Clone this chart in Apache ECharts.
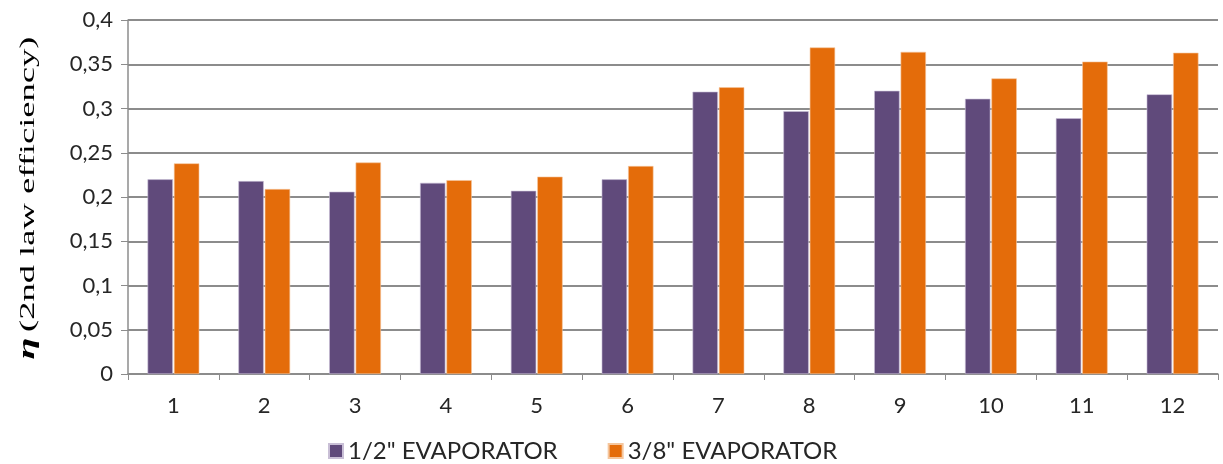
<!DOCTYPE html>
<html>
<head>
<meta charset="utf-8">
<script src="https://cdn.jsdelivr.net/npm/echarts@6/dist/echarts.min.js"></script>
<style>
  html, body { margin: 0; padding: 0; background: #ffffff; }
  #chart { width: 1223px; height: 464px; }
</style>
</head>
<body>
<div id="chart"></div>
<script>
// Test cases 1–12 and 2nd-law efficiency for each evaporator size
const categories = ['1', '2', '3', '4', '5', '6', '7', '8', '9', '10', '11', '12'];
const evap12 = [0.220, 0.218, 0.206, 0.216, 0.207, 0.220, 0.319, 0.297, 0.320, 0.311, 0.289, 0.316];
const evap38 = [0.238, 0.209, 0.239, 0.219, 0.223, 0.235, 0.324, 0.369, 0.364, 0.334, 0.353, 0.363];
const seriesNames = ['1/2" EVAPORATOR', '3/8" EVAPORATOR'];
const yTitleSymbol = 'η';
const yTitleText = '(2nd law efficiency)';

const labelFont = 'Lato, "Open Sans", sans-serif';
const chart = echarts.init(document.getElementById('chart'), null, { renderer: 'canvas' });

chart.setOption({
  animation: false,
  backgroundColor: '#ffffff',
  grid: { left: 128, right: 5, top: 20, bottom: 90, containLabel: false },
  legend: {
    top: 434,
    left: 323,
    itemWidth: 14,
    itemHeight: 14,
    itemGap: 50,
    icon: 'rect',
    textStyle: { fontFamily: labelFont, fontSize: 24, color: '#262626' },
    data: seriesNames
  },
  // vertical axis title, drawn as real text stretched along its length
  graphic: [{
    type: 'text',
    x: 28,
    y: 198,
    rotation: Math.PI / 2,
    scaleX: 1.66,
    scaleY: 1,
    style: {
      text: '{b|' + yTitleSymbol + '} {t|' + yTitleText + '}',
      align: 'center',
      verticalAlign: 'middle',
      fontWeight: 'normal',
      rich: {
        b: { fontFamily: '"Liberation Serif", serif', fontWeight: 'bold', fontStyle: 'italic', fontSize: 24, fill: '#000000' },
        t: { fontFamily: '"Liberation Serif", serif', fontWeight: 'normal', fontStyle: 'normal', fontSize: 22, fill: '#000000' }
      }
    }
  }],
  xAxis: {
    type: 'category',
    data: categories,
    axisLine: { lineStyle: { color: '#8c8c8c', width: 1.5 } },
    axisTick: { show: true, length: 6, alignWithLabel: false, lineStyle: { color: '#8c8c8c' } },
    axisLabel: { margin: 21, fontFamily: labelFont, fontSize: 22, color: '#262626' }
  },
  yAxis: {
    type: 'value',
    min: 0,
    max: 0.4,
    interval: 0.05,
    axisLine: { show: true, lineStyle: { color: '#8c8c8c', width: 1.5 } },
    axisTick: { show: true, length: 7, lineStyle: { color: '#8c8c8c' } },
    axisLabel: {
      margin: 15,
      fontFamily: labelFont,
      fontSize: 22,
      color: '#262626',
      formatter: v => String(+v.toFixed(2)).replace('.', ',')
    },
    splitLine: { show: true, lineStyle: { color: '#8c8c8c', width: 2 } }
  },
  series: [
    {
      name: seriesNames[0],
      type: 'bar',
      data: evap12,
      barGap: '4%',
      barCategoryGap: '43%',
      itemStyle: { color: '#604a7b', borderColor: '#c9bfd6', borderWidth: 0.6 }
    },
    {
      name: seriesNames[1],
      type: 'bar',
      data: evap38,
      itemStyle: { color: '#e46c0a', borderColor: '#f5c69d', borderWidth: 0.6 }
    }
  ]
});
</script>
</body>
</html>
